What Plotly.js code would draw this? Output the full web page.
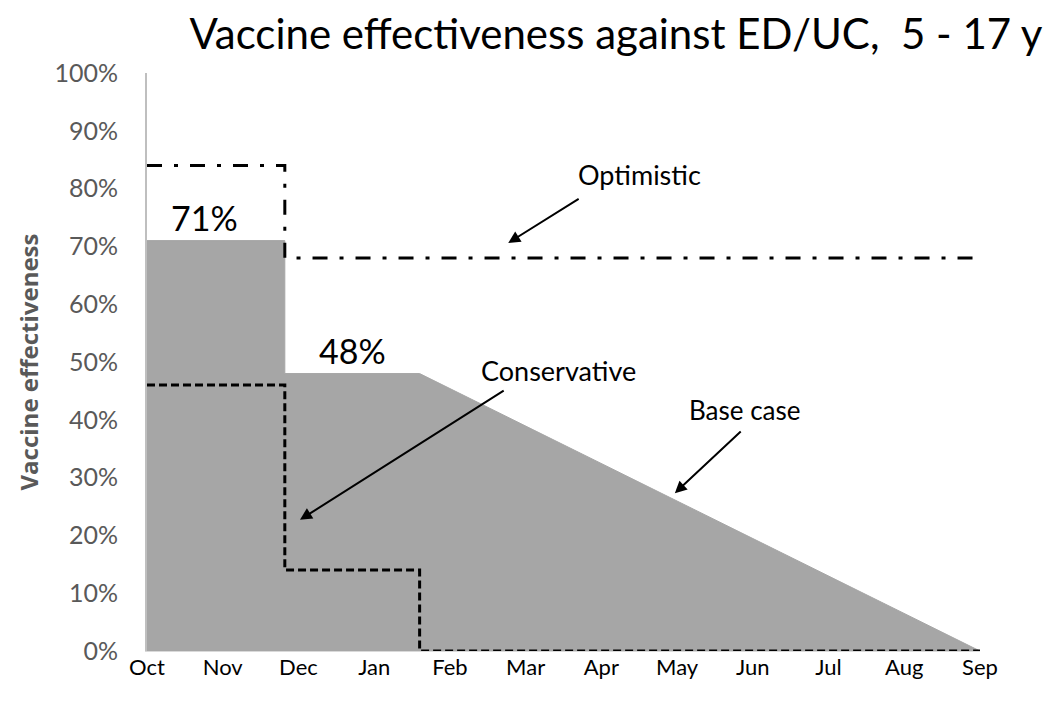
<!DOCTYPE html>
<html>
<head>
<meta charset="utf-8">
<script src="https://cdn.plot.ly/plotly-3.0.1.min.js"></script>
<style>html,body{margin:0;padding:0;background:#fff;}#chart{width:1051px;height:705px;}</style>
</head>
<body>
<div id="chart"></div>
<script>
// Month index: 0 = Oct ... 11 = Sep
const months = ["Oct","Nov","Dec","Jan","Feb","Mar","Apr","May","Jun","Jul","Aug","Sep"];
const monthPos = [0,1,2,3,4,5,6,7,8,9,10,11];

const baseX = [0, 1.82, 1.82, 3.6, 11];
const baseY = [71, 71, 48, 48, 0];

const consX = [0, 1.82, 1.82, 3.6, 3.6, 11];
const consY = [46, 46, 14, 14, 0, 0];

const optX = [0, 1.82, 1.82, 11];
const optY = [84, 84, 68, 68];

const labelFont = "Lato, 'Open Sans', sans-serif";

const traces = [
  {x: baseX, y: baseY, type: 'scatter', mode: 'lines', fill: 'tozeroy',
   fillcolor: '#a6a6a6', line: {color: '#a6a6a6', width: 1}, hoverinfo: 'skip'},
  {x: consX, y: consY, type: 'scatter', mode: 'lines',
   line: {color: '#000', width: 3, dash: '8px,4px'}, hoverinfo: 'skip'},
  {x: optX, y: optY, type: 'scatter', mode: 'lines',
   line: {color: '#000', width: 3, dash: '15px,12px,4px,12px'}, hoverinfo: 'skip'}
];

const layout = {
  width: 1051, height: 705,
  margin: {l: 147, r: 71, t: 73, b: 54},
  paper_bgcolor: '#fff', plot_bgcolor: '#fff',
  showlegend: false,
  font: {family: labelFont, color: '#595959'},
  title: {text: 'Vaccine effectiveness against ED/UC,  5 - 17 y',
          font: {family: labelFont, size: 42, color: '#000'},
          x: 0.563, xanchor: 'center', y: 0.952, yanchor: 'middle', xref: 'paper'},
  xaxis: {range: [0, 11], tickvals: monthPos, ticktext: months,
          showgrid: false, zeroline: false, showline: true, linecolor: '#d9d9d9', linewidth: 1,
          ticks: '', tickfont: {size: 22, color: '#000'}, ticklabelstandoff: -3, fixedrange: true},
  yaxis: {range: [0, 100], dtick: 10, ticksuffix: '%', showgrid: false, zeroline: false,
          showline: true, linecolor: '#bfbfbf', linewidth: 2, ticks: '',
          tickfont: {size: 25, color: '#595959'}, ticklabelstandoff: 22,
          title: {text: 'Vaccine effectiveness', font: {family: "'Open Sans', sans-serif", size: 24, color: '#595959', weight: 'bold'}, standoff: 9},
          fixedrange: true},
  annotations: [
    {x: 0.76, y: 75, xref: 'x', yref: 'y', text: '71%', showarrow: false, font: {size: 34, color: '#000'}},
    {x: 2.71, y: 52, xref: 'x', yref: 'y', text: '48%', showarrow: false, font: {size: 34, color: '#000'}},
    {x: 6.51, y: 82.4, xref: 'x', yref: 'y', text: 'Optimistic', showarrow: false, font: {size: 27, color: '#000'}},
    {x: 5.43, y: 48.6, xref: 'x', yref: 'y', text: 'Conservative', showarrow: false, font: {size: 27, color: '#000'}},
    {x: 7.9, y: 41.7, xref: 'x', yref: 'y', text: 'Base case', showarrow: false, font: {size: 26, color: '#000'}},
    {x: 4.77, y: 70.6, ax: 5.72, ay: 78.4, xref: 'x', yref: 'y', axref: 'x', ayref: 'y', text: '',
     showarrow: true, arrowhead: 2, arrowsize: 1.2, arrowwidth: 2, arrowcolor: '#000'},
    {x: 2.02, y: 22.7, ax: 4.73, ay: 45.2, xref: 'x', yref: 'y', axref: 'x', ayref: 'y', text: '',
     showarrow: true, arrowhead: 2, arrowsize: 1.2, arrowwidth: 2, arrowcolor: '#000'},
    {x: 6.97, y: 27.3, ax: 7.86, ay: 38.2, xref: 'x', yref: 'y', axref: 'x', ayref: 'y', text: '',
     showarrow: true, arrowhead: 2, arrowsize: 1.2, arrowwidth: 2, arrowcolor: '#000'}
  ]
};

Plotly.newPlot('chart', traces, layout, {displayModeBar: false, staticPlot: true});
</script>
</body>
</html>
